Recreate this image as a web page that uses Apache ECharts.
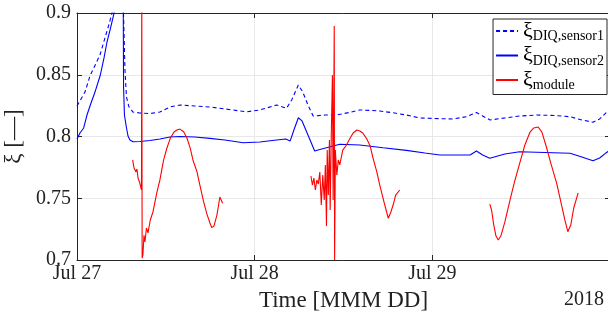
<!DOCTYPE html>
<html>
<head>
<meta charset="utf-8">
<script src="https://cdn.jsdelivr.net/npm/echarts@6/dist/echarts.min.js"></script>
<style>
html,body{margin:0;padding:0;background:#fff;}
#c{width:608px;height:320px;}
</style>
</head>
<body>
<div id="c"></div>
<script>
// Time in hours since Jul 27 2018 00:00
var xTickLabels = ['Jul 27', 'Jul 28', 'Jul 29', ''];
var yTickLabels = ['0.7', '0.75', '0.8', '0.85', '0.9'];

var s1Hours = [0, 1.08, 1.75, 3.1, 4.28, 4.73, 5.27, 5.8, 6.28, 6.48, 6.68, 7.02, 7.56, 8.5, 9.86, 11.2, 12.56, 13.9, 15.9, 17.96, 19.98, 22.9, 24.7, 26.96, 28.3, 29.0, 29.9, 30.5, 31.2, 31.9, 33.5, 35.06, 36.9, 38.2, 40.9, 42.9, 44.5, 46.3, 48.1, 50.8, 52.6, 53.96, 54.8, 55.8, 57.8, 59.8, 62.1, 64.5, 66.6, 68.2, 69.7, 70.6, 71.5, 72];
var s1Vals = [0.8247, 0.836, 0.849, 0.866, 0.890, 0.900, 0.915, 0.93, 0.900, 0.854, 0.832, 0.824, 0.8198, 0.819, 0.8186, 0.8198, 0.8239, 0.8255, 0.8247, 0.8239, 0.8223, 0.820, 0.8215, 0.8255, 0.8228, 0.8296, 0.8417, 0.836, 0.8255, 0.8166, 0.8174, 0.8174, 0.8196, 0.8215, 0.8207, 0.819, 0.8174, 0.815, 0.8146, 0.8142, 0.816, 0.8194, 0.8166, 0.8134, 0.815, 0.8166, 0.8174, 0.817, 0.816, 0.8134, 0.8115, 0.8142, 0.8194, 0.8215];

var s2Hours = [0, 0.4, 0.9, 1.35, 1.8, 2.43, 3.15, 3.65, 4.05, 4.46, 4.95, 5.27, 5.8, 6.18, 6.25, 6.29, 6.41, 6.62, 6.89, 7.15, 7.56, 8.5, 9.86, 11.2, 12.56, 13.9, 15.9, 17.96, 19.98, 22.45, 24.7, 26.96, 28.2, 28.8, 29.3, 29.9, 30.4, 31.0, 31.6, 32.1, 32.8, 33.7, 35.5, 38.2, 41.35, 44.5, 47.0, 49.0, 53.1, 53.96, 54.8, 55.76, 57.8, 59.8, 63.2, 66.6, 68.2, 69.7, 70.6, 71.5, 72];
var s2Vals = [0.798, 0.8028, 0.8069, 0.8174, 0.8255, 0.836, 0.8498, 0.8636, 0.8765, 0.8862, 0.8984, 0.9065, 0.91, 0.9065, 0.9, 0.840, 0.8174, 0.8093, 0.8004, 0.7972, 0.7958, 0.796, 0.7968, 0.798, 0.7996, 0.80, 0.7996, 0.7985, 0.7972, 0.795, 0.7956, 0.7972, 0.798, 0.7964, 0.8053, 0.8152, 0.8126, 0.804, 0.7955, 0.7883, 0.7895, 0.7909, 0.7937, 0.7931, 0.7909, 0.7888, 0.7866, 0.785, 0.785, 0.7883, 0.785, 0.7824, 0.7858, 0.7877, 0.787, 0.7864, 0.7834, 0.7804, 0.7826, 0.7869, 0.789];

var modHours = [7.52, 7.7, 7.97, 8.1, 8.24, 8.44, 8.57, 8.71, 8.75, 8.8, 8.9, 9.05, 9.18, 9.38, 9.59, 9.9, 10.26, 10.8, 11.2, 11.7, 12.15, 12.6, 13.1, 13.5, 13.9, 14.4, 14.85, 15.3, 15.66, 16.2, 16.6, 17.1, 17.55, 17.96, 18.2, 18.5, 18.9, 19.3, 19.5, 19.67,
  25.0,
  31.6, 31.8, 32.0, 32.2, 32.4, 32.6, 32.8, 33.0, 33.2, 33.4, 33.55, 33.7, 33.8, 33.95, 34.1, 34.2, 34.35, 34.5, 34.6, 34.75, 34.8, 34.9, 35.1, 35.3, 35.5, 35.9, 36.4, 36.9, 37.3, 37.8, 38.2, 38.6, 39.1, 39.6, 40.0, 40.5, 40.9, 41.5, 42.05, 42.4, 42.7, 43.05, 43.6,
  50.0,
  55.76, 56.0, 56.3, 56.6, 56.9, 57.25, 57.8, 58.5, 59.1, 59.8, 60.5, 61.2, 61.7, 62.3, 62.8, 63.4, 64.0, 64.8, 65.3, 65.9, 66.3, 66.7, 67.1, 67.7];
var modVals = [0.781, 0.7745, 0.7713, 0.7737, 0.7664, 0.7632, 0.7648, 0.7567, 0.92, 0.7016, 0.704, 0.720, 0.7146, 0.7259, 0.7219, 0.7324, 0.7389, 0.755, 0.7648, 0.781, 0.7907, 0.7985, 0.8036, 0.8053, 0.806, 0.8039, 0.7988, 0.7904, 0.781, 0.7715, 0.7607, 0.7472, 0.7372, 0.73, 0.7262, 0.7275, 0.7364, 0.751, 0.7526, 0.7459,
  null,
  0.768, 0.7607, 0.7664, 0.7567, 0.7648, 0.7615, 0.7712, 0.7445, 0.7688, 0.7486, 0.777, 0.7275, 0.789, 0.7526, 0.7972, 0.7405, 0.8012, 0.8498, 0.7486, 0.8895, 0.70, 0.789, 0.7688, 0.781, 0.777, 0.789, 0.7931, 0.7988, 0.8028, 0.8053, 0.8045, 0.8028, 0.7985, 0.7923, 0.7823, 0.7713, 0.7607, 0.7462, 0.7338, 0.7389, 0.7445, 0.7526, 0.7567,
  null,
  0.7453, 0.7405, 0.7283, 0.7194, 0.7162, 0.7194, 0.7308, 0.7486, 0.7632, 0.7783, 0.7931, 0.8036, 0.8069, 0.8077, 0.8036, 0.7917, 0.7785, 0.7621, 0.7486, 0.7324, 0.7229, 0.7283, 0.7421, 0.7543];

function zip(a, b) { return a.map(function (h, i) { return [h, b[i]]; }); }

var FONT = 'Liberation Serif';
var AX = '#262626';
var GRIDC = '#e8e8e8';

var chart = echarts.init(document.getElementById('c'), null, {renderer: 'canvas'});
chart.setOption({
  animation: false,
  backgroundColor: '#fff',
  grid: {left: 77, right: -2, top: 13, bottom: 60, containLabel: false, outerBoundsMode: 'none'},
  legend: {
    orient: 'vertical', right: 1, top: 19,
    backgroundColor: '#fff', borderColor: AX, borderWidth: 1, borderRadius: 0,
    padding: [1, 3, 2, 2], itemGap: 1, itemWidth: 22, itemHeight: 12,
    itemStyle: {opacity: 0},
    data: ['s1', 's2', 'mod'],
    formatter: function (n) {
      var sub = {s1: 'DIQ,sensor1', s2: 'DIQ,sensor2', mod: 'module'}[n];
      return '{x|ξ}{s|' + sub + '}';
    },
    textStyle: {
      color: '#000', fontFamily: FONT,
      rich: {
        x: {fontSize: 22, fontFamily: FONT, color: '#000'},
        s: {fontSize: 14, fontFamily: FONT, color: '#000', padding: [11, 0, 0, 0]}
      }
    }
  },
  xAxis: [{
    type: 'value', min: 0, max: 72, interval: 24,
    name: 'Time [MMM DD]', nameLocation: 'middle', nameGap: 29,
    nameTextStyle: {fontFamily: FONT, fontSize: 23, color: '#222'},
    axisLine: {show: true, onZero: false, lineStyle: {color: AX, width: 1}},
    axisTick: {show: true, inside: true, length: 5, lineStyle: {color: AX}},
    axisLabel: {
      fontFamily: FONT, fontSize: 20, color: '#222', margin: 4, showMaxLabel: false,
      formatter: function (v) { return xTickLabels[Math.round(v / 24)] || ''; }
    },
    splitLine: {show: true, lineStyle: {color: GRIDC, width: 1}}
  }, {
    type: 'value', min: 0, max: 72, interval: 24, position: 'top',
    axisLine: {show: true, onZero: false, lineStyle: {color: AX, width: 1}},
    axisTick: {show: true, inside: true, length: 5, lineStyle: {color: AX}},
    axisLabel: {show: false}, splitLine: {show: false}
  }],
  yAxis: [{
    type: 'value', min: 0.7, max: 0.9, interval: 0.05,
    name: 'ξ [—]', nameLocation: 'middle', nameGap: 50,
    nameTextStyle: {fontFamily: FONT, fontSize: 23, color: '#222'},
    axisLine: {show: true, onZero: false, lineStyle: {color: AX, width: 1}},
    axisTick: {show: true, inside: true, length: 5, lineStyle: {color: AX}},
    axisLabel: {
      fontFamily: FONT, fontSize: 20, color: '#222', margin: 6,
      formatter: function (v) { return yTickLabels[Math.round((v - 0.7) / 0.05)]; }
    },
    splitLine: {show: true, lineStyle: {color: GRIDC, width: 1}}
  }, {
    type: 'value', min: 0.7, max: 0.9, interval: 0.05, position: 'right',
    axisLine: {show: true, onZero: false, lineStyle: {color: AX, width: 1}},
    axisTick: {show: true, inside: true, length: 5, lineStyle: {color: AX}},
    axisLabel: {show: false}, splitLine: {show: false}
  }],
  graphic: [{
    type: 'text', right: 4, top: 290,
    style: {text: '2018', fontFamily: FONT, fontSize: 20, fill: '#222'}
  }],
  series: [{
    name: 's1', type: 'line', data: zip(s1Hours, s1Vals), symbol: 'none', clip: true,
    lineStyle: {color: '#0000ff', width: 1.1, type: [4, 3]}, itemStyle: {color: '#0000ff'}
  }, {
    name: 's2', type: 'line', data: zip(s2Hours, s2Vals), symbol: 'none', clip: true,
    lineStyle: {color: '#0000ff', width: 1.1}, itemStyle: {color: '#0000ff'}
  }, {
    name: 'mod', type: 'line', data: zip(modHours, modVals), symbol: 'none', clip: true,
    connectNulls: false,
    lineStyle: {color: '#ff0000', width: 1.1}, itemStyle: {color: '#ff0000'}
  }]
});
</script>
</body>
</html>
